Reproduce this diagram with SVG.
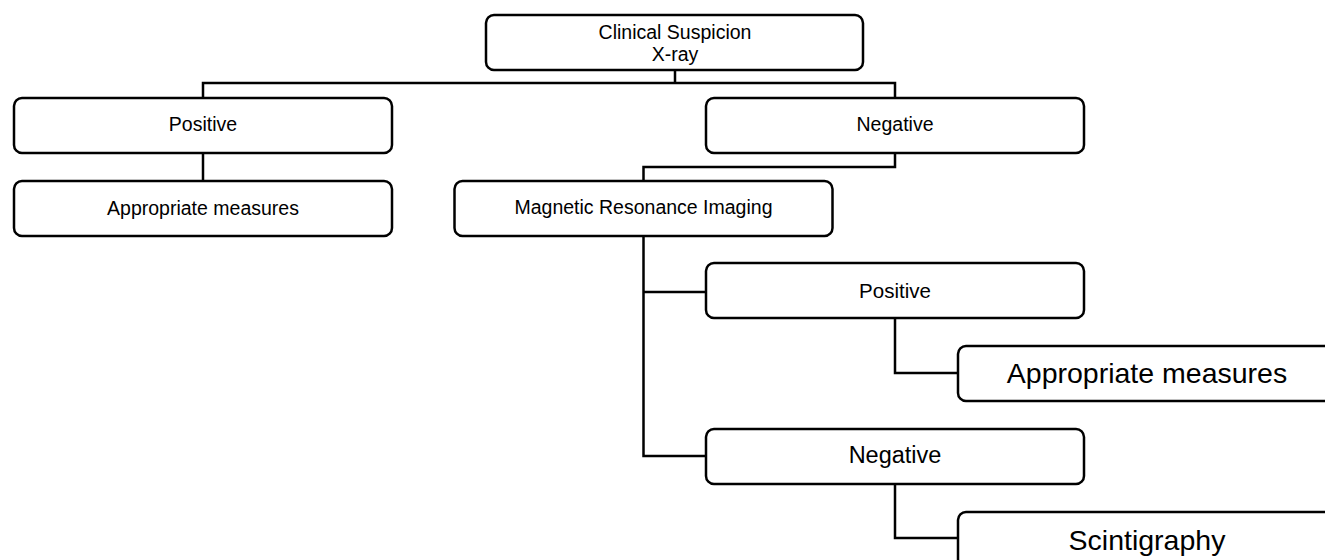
<svg xmlns="http://www.w3.org/2000/svg" width="1325" height="560" viewBox="0 0 1325 560">
<style>
.box{fill:#fff;stroke:#000;stroke-width:2.5}
.t{font-family:"Liberation Sans",Arial,sans-serif;fill:#000;text-anchor:middle}
.s{font-size:19.5px}
.conn{fill:none;stroke:#000;stroke-width:2.5}
</style>
<rect width="1325" height="560" fill="#fff"/>
<g id="connectors">
<path class="conn" d="M675 70V83M203 98V83H895V98"/>
<path class="conn" d="M203 153V181"/>
<path class="conn" d="M895 153V167H643.5V181"/>
<path class="conn" d="M643.5 236V456H706M643.5 292H706"/>
<path class="conn" d="M895 318V373H958"/>
<path class="conn" d="M895 484V538H958"/>
</g>
<g id="n-xray">
<rect class="box" x="486" y="15" width="377" height="55" rx="8"/>
<text class="t s" x="675" y="38.5">Clinical Suspicion</text>
<text class="t s" x="675" y="60.5">X-ray</text>
</g>
<g id="n-pos1">
<rect class="box" x="14" y="98" width="378" height="55" rx="8"/>
<text class="t s" x="203" y="131">Positive</text>
</g>
<g id="n-app1">
<rect class="box" x="14" y="181" width="378" height="55" rx="8"/>
<text class="t s" x="203" y="215">Appropriate measures</text>
</g>
<g id="n-neg1">
<rect class="box" x="706" y="98" width="378" height="55" rx="8"/>
<text class="t s" x="895" y="131">Negative</text>
</g>
<g id="n-mri">
<rect class="box" x="454.5" y="181" width="378" height="55" rx="8"/>
<text class="t s" x="643.5" y="214">Magnetic Resonance Imaging</text>
</g>
<g id="n-pos2">
<rect class="box" x="706" y="263" width="378" height="55" rx="8"/>
<text class="t" style="font-size:20.5px" x="895" y="297.5">Positive</text>
</g>
<g id="n-app2">
<rect class="box" x="958" y="346" width="378" height="55" rx="8"/>
<text class="t" style="font-size:28.5px" x="1147" y="383">Appropriate measures</text>
</g>
<g id="n-neg2">
<rect class="box" x="706" y="429" width="378" height="55" rx="8"/>
<text class="t" style="font-size:23.5px" x="895" y="463">Negative</text>
</g>
<g id="n-scint">
<rect class="box" x="958" y="512" width="378" height="55" rx="8"/>
<text class="t" style="font-size:28.5px" x="1147" y="550">Scintigraphy</text>
</g>
</svg>
